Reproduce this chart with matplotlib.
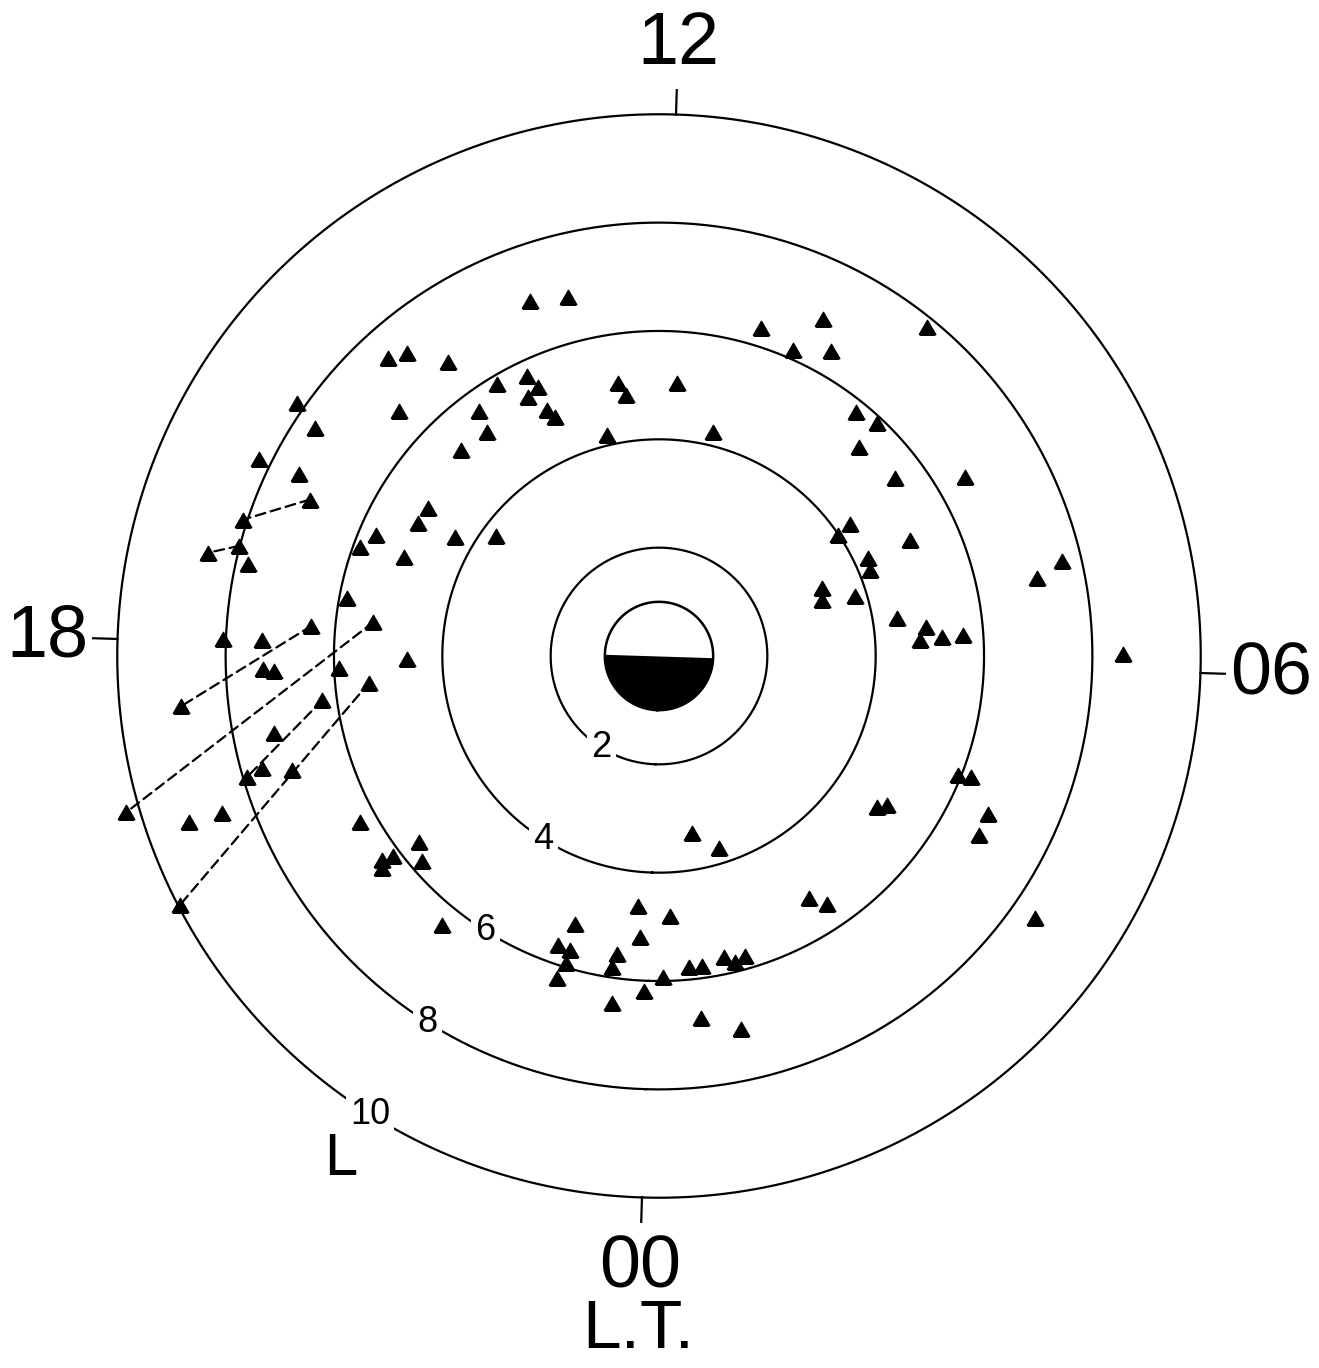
import numpy as np
import matplotlib
matplotlib.use("Agg")
import matplotlib.pyplot as plt

plt.rcParams["font.family"] = ["Liberation Sans Narrow", "Liberation Sans", "DejaVu Sans"]

# event positions: local time (h) and L-shell
event_lt = [13.45, 13.07, 10.97, 10.39, 9.51, 10.54, 10.16, 14.94, 14.77, 14.50,
            15.79, 15.23, 15.88, 16.37, 16.33, 16.51, 16.91, 17.14, 17.26, 17.28,
            15.94, 16.19, 16.58, 16.78, 16.71, 16.10, 15.70, 14.17, 13.80, 13.73,
            13.91, 13.75, 13.69, 14.54, 14.62, 15.04, 12.69, 12.60, 11.87, 13.00,
            11.22, 9.53, 9.25, 9.20, 8.59, 8.14, 8.43, 8.39, 7.77, 7.79,
            7.60, 7.63, 7.38, 7.25, 6.72, 6.53, 6.35, 6.38, 6.38, 6.90,
            7.00, 6.14, 4.67, 4.71, 3.81, 3.91, 4.41, 4.17, 3.80, 2.24,
            2.39, 0.82, 1.28, 23.80, 0.28, 22.96, 23.86, 22.84, 23.00, 22.99,
            22.95, 23.59, 23.55, 0.17, 23.95, 23.61, 0.49, 0.65, 0.93, 1.05,
            1.19, 0.56, 0.95, 21.53, 20.06, 20.64, 20.84, 20.54, 20.58, 20.62,
            19.42, 19.44, 19.21, 19.95, 17.97, 17.97, 18.25, 18.27, 18.26, 18.17,
            17.42, 17.79, 17.67, 18.52, 18.62, 18.47, 18.87, 19.17, 19.21, 19.27]
event_l = [6.97, 6.83, 6.34, 6.91, 7.83, 6.16, 6.46, 7.43, 7.27, 6.68,
           8.16, 6.60, 7.62, 8.23, 7.44, 7.06, 8.08, 8.01, 8.54, 7.77,
           5.06, 5.08, 5.68, 5.87, 5.05, 4.36, 3.73, 5.84, 5.71, 5.44,
           5.36, 4.99, 4.81, 5.61, 5.21, 5.28, 5.09, 4.85, 5.05, 4.19,
           4.25, 5.79, 5.89, 5.34, 5.45, 6.54, 4.28, 3.99, 5.10, 4.26,
           4.20, 3.26, 3.18, 3.78, 4.45, 4.96, 4.82, 5.23, 5.62, 7.12,
           7.64, 8.56, 5.94, 6.17, 4.89, 5.03, 6.73, 6.77, 8.46, 5.25,
           5.53, 3.32, 3.71, 4.63, 4.80, 5.18, 5.20, 5.65, 5.67, 5.92,
           6.23, 5.55, 5.80, 5.92, 6.19, 6.46, 5.76, 5.77, 5.68, 5.82,
           5.76, 6.72, 7.05, 6.38, 6.31, 5.60, 5.78, 6.35, 6.14, 6.44,
           9.20, 8.57, 10.25, 9.96, 8.05, 7.33, 7.31, 7.11, 5.91, 4.65,
           5.86, 6.44, 5.31, 8.87, 6.27, 5.37, 7.24, 7.61, 7.92, 7.09]

# linked events (dashed): start -> end
link_lt0 = [16.51, 17.14, 17.79, 17.67, 18.62, 18.47]
link_l0 = [7.06, 8.01, 6.44, 5.31, 6.27, 5.37]
link_lt1 = [16.91, 17.26, 18.52, 19.21, 19.21, 19.95]
link_l1 = [8.08, 8.54, 8.87, 10.25, 7.92, 9.96]

rings = [2, 4, 6, 8, 10]
cardinal_lt = [0, 6, 12, 18]
cardinal_txt = ["00", "06", "12", "18"]

TILT = 1.8     # the printed plate is turned a little clockwise
RMAX = 11.5


def th(lt):
    return np.deg2rad(np.asarray(lt, dtype=float) * 15.0)


fig = plt.figure(figsize=(13.19, 13.68), dpi=100)
ax = fig.add_axes([36 / 1319, 89 / 1368, 1246 / 1319, 1246 / 1368], projection="polar")
ax.set_theta_offset(np.deg2rad(-90 - TILT))
ax.set_rlim(0, RMAX)
ax.grid(False)
ax.set_xticks([])
ax.set_yticks([])
ax.spines["polar"].set_visible(False)
ax.patch.set_visible(False)

tt = np.linspace(0, 2 * np.pi, 721)
# earth, night side dark
tn = np.linspace(th(18), th(30), 200)
ax.fill_between(tn, 0, 1, color="black", lw=0, zorder=2)
ax.plot(tt, np.ones_like(tt), color="black", lw=1.8, zorder=2)

for L in rings:
    ax.plot(tt, np.full_like(tt, L), color="black", lw=1.6, zorder=1)
    ax.text(th(21.97), L, str(L), fontsize=26, ha="center", va="center", zorder=3,
            bbox=dict(boxstyle="square,pad=0.12", fc="white", ec="none"))
ax.text(th(21.97), 11.0, "L", fontsize=43, ha="center", va="center")

for lt, s in zip(cardinal_lt, cardinal_txt):
    ax.plot([th(lt), th(lt)], [10, 10.45], color="black", lw=1.6, zorder=1)
    ax.text(th(lt), 11.3, s, fontsize=53, ha="center", va="center")
ax.text(th(0), 12.45, "L.T.", fontsize=50, ha="center", va="center")

for a0, r0, a1, r1 in zip(link_lt0, link_l0, link_lt1, link_l1):
    ax.annotate("", xy=(th(a1), r1), xytext=(th(a0), r0),
                arrowprops=dict(arrowstyle="-", linestyle=(0, (4.5, 2.5)), lw=1.6,
                                color="black", shrinkA=0, shrinkB=0), zorder=4)

tri = [(-1, -0.866), (1, -0.866), (0, 0.866), (-1, -0.866)]
ax.plot(th(event_lt), event_l, ls="none", marker=tri, ms=12, color="black",
        mec="black", mew=1.0, zorder=5)

fig.savefig("out.png", dpi=100)
